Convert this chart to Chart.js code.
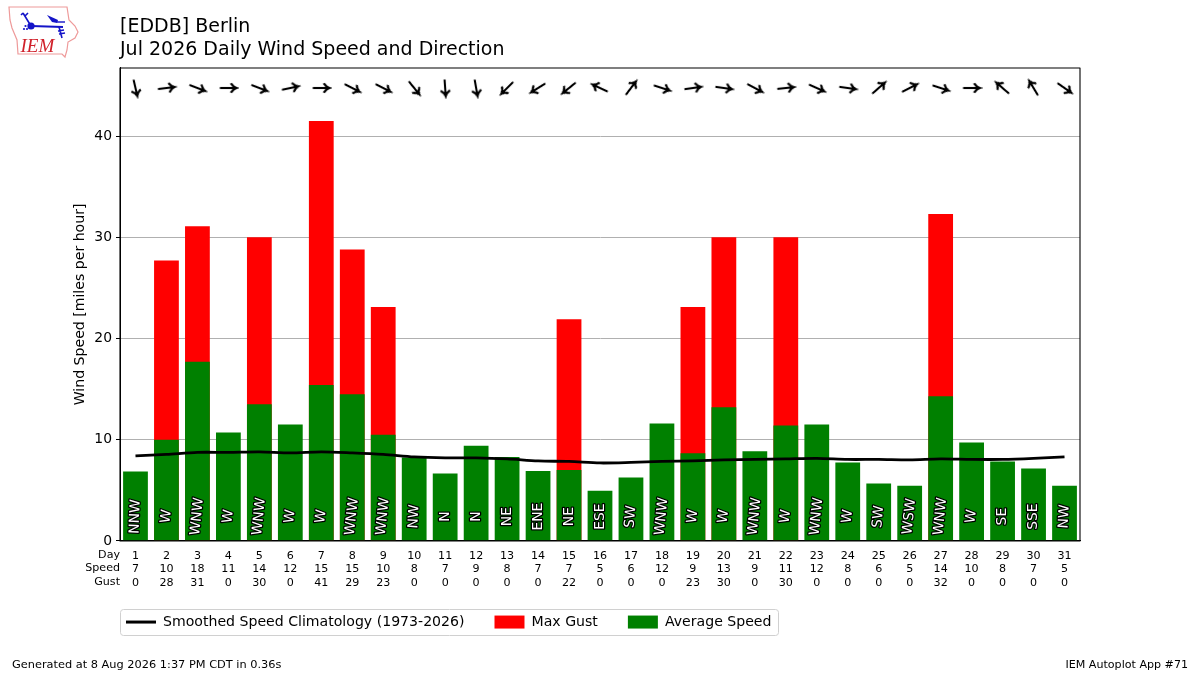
<!DOCTYPE html>
<html>
<head>
<meta charset="utf-8">
<title>[EDDB] Berlin</title>
<script src="https://cdn.jsdelivr.net/npm/chart.js@4/dist/chart.umd.min.js"></script>
<style>
    html, body { margin: 0; padding: 0; background: #fff; }
    #wrap { position: relative; width: 1200px; height: 675px; }
    #grafico { display: block; }
    #logo { position: absolute; left: 0; top: 0; }
</style>
</head>
<body>
<div id="wrap">
    <canvas id="grafico" width="1200" height="675"></canvas>
    <svg id="logo" width="90" height="64" viewBox="0 0 90 64">
        <path d="M9 7 L67 7 L69 20 L75 26 L78 32 L75 38 L68 42 L67 50 L65 57 L62 54 L18 54 L17 40 L12 28 L10 20 Z" fill="none" stroke="#ee9a9a" stroke-width="1.2"/>
        <g stroke="#1414c8" fill="none">
            <path d="M31 26 L63 27" stroke-width="2"/>
            <path d="M31 26 L23 13 M23 13 L21 15 M25 16 L28 13" stroke-width="1.6"/>
            <path d="M59 27 L62 38 M58 31 L64 30 M59 34 L65 33" stroke-width="1.6"/>
            <path d="M57 22 L65 22" stroke-width="1.4"/>
        </g>
        <path d="M47 15 L58 20 L57 23 L52 22 Z" fill="#1414c8"/>
        <circle cx="31" cy="26" r="3.6" fill="#1414c8"/>
        <circle cx="24" cy="29" r="1.1" fill="#1414c8"/>
        <circle cx="27" cy="29" r="1.1" fill="#1414c8"/>
        <circle cx="25.5" cy="26" r="1.1" fill="#1414c8"/>
        <text x="20.5" y="51.5" font-family="Liberation Serif" font-style="italic" font-size="19" fill="#d0202a">IEM</text>
    </svg>
</div>
<script>
const dias = ["1","2","3","4","5","6","7","8","9","10","11","12","13","14","15","16","17","18","19","20","21","22","23","24","25","26","27","28","29","30","31"];
const velocidadeTexto = ["7","10","18","11","14","12","15","15","10","8","7","9","8","7","7","5","6","12","9","13","9","11","12","8","6","5","14","10","8","7","5"];
const rajadaTexto = ["0","28","31","0","30","0","41","29","23","0","0","0","0","0","22","0","0","0","23","30","0","30","0","0","0","0","32","0","0","0","0"];

const velocidade = [6.86, 10.0, 17.7, 10.7, 13.5, 11.5, 15.4, 14.5, 10.5, 8.25, 6.67, 9.4, 8.3, 6.9, 7.0, 4.95, 6.27, 11.6, 8.65, 13.2, 8.85, 11.4, 11.5, 7.75, 5.67, 5.45, 14.3, 9.73, 7.85, 7.16, 5.45];
const rajada = [0, 27.7, 31.1, 0, 30.0, 0, 41.5, 28.8, 23.1, 0, 0, 0, 0, 0, 21.9, 0, 0, 0, 23.1, 30.0, 0, 30.0, 0, 0, 0, 0, 32.3, 0, 0, 0, 0];
const climatologia = [8.4, 8.55, 8.75, 8.75, 8.8, 8.7, 8.8, 8.7, 8.55, 8.3, 8.2, 8.2, 8.1, 7.9, 7.85, 7.7, 7.75, 7.85, 7.9, 8.0, 8.05, 8.1, 8.15, 8.05, 8.05, 8.0, 8.1, 8.05, 8.05, 8.15, 8.3];

const direcao = ["NNW","W","WNW","W","WNW","W","W","WNW","WNW","NW","N","N","NE","ENE","NE","ESE","SW","WNW","W","W","WNW","W","WNW","W","SW","WSW","WNW","W","SE","SSE","NW"];
const rumoSeta = [167, 83, 111, 90, 111, 78, 90, 117, 117, 141, 176, 170, 225, 238, 231, 295, 37, 108, 82, 98, 118, 84, 114, 98, 49, 63, 108, 90, 311, 329, 125];
const linhaSetas = [44.75, 44.75, 44.75, 44.75, 44.75, 44.75, 44.75, 44.75, 44.75, 44.75, 44.75, 44.75, 44.75, 44.75, 44.75, 44.75, 44.75, 44.75, 44.75, 44.75, 44.75, 44.75, 44.75, 44.75, 44.75, 44.75, 44.75, 44.75, 44.75, 44.75, 44.75];

const titulo = ["[EDDB] Berlin", "Jul 2026 Daily Wind Speed and Direction"];
const linhasEixo = ["Day", "Speed", "Gust"];
const rodapeEsq = "Generated at 8 Aug 2026 1:37 PM CDT in 0.36s";
const rodapeDir = "IEM Autoplot App #71";

const fonte = "'DejaVu Sans'";
// inclinacao do texto de direcao, igual ao original
const anguloTexto = { W: 83, WNW: 84, WSW: 84, SW: 85, NW: 87, NNW: 88 };

function criarSeta() {
    const c = document.createElement("canvas");
    c.width = 22;
    c.height = 22;
    const g = c.getContext("2d");
    g.strokeStyle = "#000";
    g.lineWidth = 2.1;
    g.beginPath();
    g.moveTo(11, 19.5);
    g.lineTo(11, 3);
    g.moveTo(6.3, 8.5);
    g.quadraticCurveTo(9.8, 6.5, 11, 2.8);
    g.quadraticCurveTo(12.2, 6.5, 15.7, 8.5);
    g.stroke();
    return c;
}

const extras = {
    id: "extras",
    afterLayout(chart) {
        chart.legend.left = 96;
        chart.legend.top = 585;
    },
    beforeDraw(chart) {
        const ctx = chart.ctx;
        ctx.save();
        ctx.strokeStyle = "#d0d0d0";
        ctx.lineWidth = 1;
        ctx.beginPath();
        ctx.roundRect(120.5, 609.5, 658, 26, 3);
        ctx.stroke();
        ctx.restore();
    },
    afterDatasetsDraw(chart) {
        const ctx = chart.ctx;
        const area = chart.chartArea;
        const sx = chart.scales.x;
        const sy = chart.scales.y;
        ctx.save();
        ctx.font = "13.9px " + fonte;
        ctx.textAlign = "center";
        ctx.textBaseline = "middle";
        ctx.lineJoin = "round";
        direcao.forEach((d, i) => {
            ctx.save();
            ctx.translate(sx.getPixelForValue(i), sy.getPixelForValue(2.4));
            ctx.rotate(-(anguloTexto[d] || 90) * Math.PI / 180);
            ctx.strokeStyle = "#000";
            ctx.lineWidth = 2.5;
            ctx.strokeText(d, 0, 0);
            ctx.fillStyle = "#fff";
            ctx.fillText(d, 0, 0);
            ctx.restore();
        });
        ctx.strokeStyle = "#000";
        ctx.lineWidth = 1.1;
        ctx.strokeRect(area.left, area.top, area.right - area.left, area.bottom - area.top);
        ctx.restore();
    },
    afterDraw(chart) {
        const ctx = chart.ctx;
        ctx.save();
        ctx.fillStyle = "#000";
        ctx.font = "11.1px " + fonte;
        ctx.textBaseline = "middle";
        ctx.textAlign = "right";
        linhasEixo.forEach((t, i) => ctx.fillText(t, 120, 555 + i * 13.5));
        ctx.fillText(rodapeDir, 1188, 665);
        ctx.textAlign = "left";
        ctx.font = "11.35px " + fonte;
        ctx.fillText(rodapeEsq, 12, 665);
        ctx.restore();
    }
};

new Chart(document.getElementById("grafico"), {
    data: {
        labels: dias.map((d, i) => [d, velocidadeTexto[i], rajadaTexto[i]]),
        datasets: [
            {
                type: "line",
                label: "Smoothed Speed Climatology (1973-2026)",
                data: climatologia,
                borderColor: "#000",
                borderWidth: 2.8,
                tension: 0.3,
                pointRadius: 0,
                order: 0
            },
            {
                type: "line",
                label: "Direcao",
                data: linhaSetas,
                showLine: false,
                pointStyle: criarSeta(),
                pointRotation: rumoSeta,
                order: 0
            },
            {
                type: "bar",
                label: "Average Speed",
                data: velocidade,
                backgroundColor: "#008000",
                grouped: false,
                barPercentage: 0.8,
                categoryPercentage: 1,
                order: 1
            },
            {
                type: "bar",
                label: "Max Gust",
                data: rajada,
                backgroundColor: "#ff0000",
                grouped: false,
                barPercentage: 0.8,
                categoryPercentage: 1,
                order: 2
            }
        ]
    },
    options: {
        responsive: false,
        animation: false,
        layout: { padding: { top: 16, left: 72, right: 120, bottom: 33 } },
        plugins: {
            tooltip: { enabled: false },
            title: {
                display: true,
                text: titulo,
                align: "start",
                fullSize: false,
                color: "#000",
                font: { family: fonte, size: 19, weight: "normal", lineHeight: 1.21 },
                padding: { top: 0, bottom: 6 }
            },
            legend: {
                position: "bottom",
                align: "start",
                fullSize: false,
                labels: {
                    color: "#000",
                    font: { family: fonte, size: 14.1 },
                    padding: 30,
                    usePointStyle: true,
                    pointStyleWidth: 30,
                    boxHeight: 13,
                    generateLabels: () => [
                        { text: "Smoothed Speed Climatology (1973-2026)", pointStyle: "line", strokeStyle: "#000", fillStyle: "#000", lineWidth: 3, datasetIndex: 0 },
                        { text: "Max Gust", pointStyle: "rect", fillStyle: "#ff0000", strokeStyle: "#ff0000", lineWidth: 0, datasetIndex: 3 },
                        { text: "Average Speed", pointStyle: "rect", fillStyle: "#008000", strokeStyle: "#008000", lineWidth: 0, datasetIndex: 2 }
                    ]
                }
            }
        },
        scales: {
            x: {
                type: "category",
                offset: true,
                afterFit: axis => { axis.height = 47; },
                grid: { display: false, drawTicks: true, tickLength: 4, tickColor: "#000" },
                border: { color: "#000", width: 1 },
                ticks: {
                    color: "#000",
                    autoSkip: false,
                    maxRotation: 0,
                    padding: 4,
                    font: { family: fonte, size: 11.1, lineHeight: 1.22 }
                }
            },
            y: {
                min: 0,
                max: 46.73,
                afterFit: axis => { axis.width = 48; },
                afterBuildTicks: axis => { axis.ticks = axis.ticks.filter(t => t.value % 10 === 0); },
                title: {
                    display: true,
                    text: "Wind Speed [miles per hour]",
                    color: "#000",
                    font: { family: fonte, size: 14.1 },
                    padding: 0
                },
                grid: { color: "#b0b0b0", lineWidth: 1, tickColor: "#000", tickLength: 4 },
                border: { color: "#000", width: 1 },
                ticks: {
                    stepSize: 10,
                    color: "#000",
                    padding: 4,
                    font: { family: fonte, size: 13.9 }
                }
            }
        }
    },
    plugins: [extras]
});
</script>
</body>
</html>
